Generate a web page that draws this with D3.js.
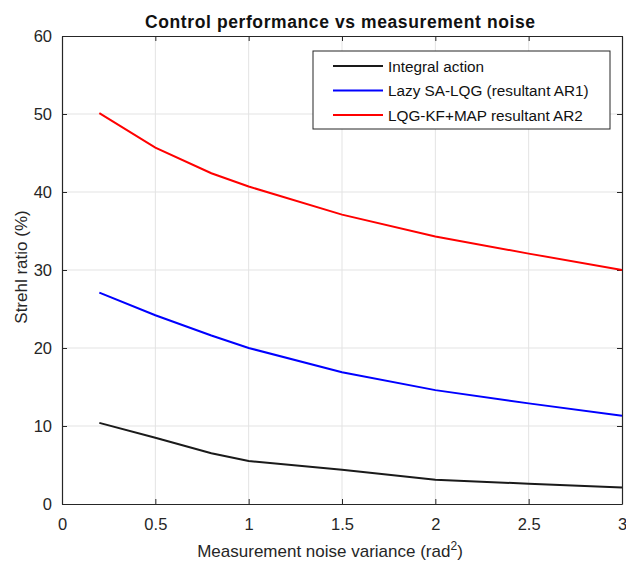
<!DOCTYPE html>
<html>
<head>
<meta charset="utf-8">
<script src="https://cdn.jsdelivr.net/npm/d3@7"></script>
<style>
  body { margin: 0; background: #fff; }
  text { font-family: "Liberation Sans", Arial, sans-serif; }
</style>
</head>
<body>
<div id="chart"></div>
<script>
const noise = [0.2, 0.5, 0.8, 1.0, 1.5, 2.0, 2.5, 3.0];
const integral = [10.4, 8.5, 6.5, 5.5, 4.4, 3.1, 2.6, 2.1];
const lazyLqg = [27.1, 24.2, 21.6, 20.0, 16.9, 14.6, 12.9, 11.3];
const lqgKfMap = [50.1, 45.7, 42.4, 40.7, 37.1, 34.3, 32.1, 30.0];
const seriesNames = ["Integral action", "Lazy SA-LQG (resultant AR1)", "LQG-KF+MAP resultant AR2"];
const seriesColors = ["#1a1a1a", "#0000ff", "#ff0000"];
const xTicks = [0, 0.5, 1, 1.5, 2, 2.5, 3];
const yTicks = [0, 10, 20, 30, 40, 50, 60];

const W = 626, H = 563;
const margin = {top: 36, right: 4, bottom: 59, left: 62};
const width = W - margin.left - margin.right,
      height = H - margin.top - margin.bottom;

const svg = d3.select("#chart").append("svg")
    .attr("width", W).attr("height", H);

const x = d3.scaleLinear().domain([0, 3]).range([0, width]);
const y = d3.scaleLinear().domain([0, 60]).range([height, 0]);

const g = svg.append("g").attr("transform", `translate(${margin.left},${margin.top})`);

// grid
g.append("g").selectAll("line").data(xTicks.slice(1, -1)).join("line")
    .attr("x1", d => x(d)).attr("x2", d => x(d))
    .attr("y1", 0).attr("y2", height)
    .attr("stroke", "#e3e3e3").attr("stroke-width", 1);
g.append("g").selectAll("line").data(yTicks.slice(1, -1)).join("line")
    .attr("y1", d => y(d)).attr("y2", d => y(d))
    .attr("x1", 0).attr("x2", width)
    .attr("stroke", "#e3e3e3").attr("stroke-width", 1);

// axes (ticks inward, matlab style)
const xAxis = g.append("g").attr("transform", `translate(0,${height})`)
    .call(d3.axisBottom(x).tickValues(xTicks).tickSizeInner(-5).tickSizeOuter(0).tickPadding(14).tickFormat(d3.format("")));
const xTop = g.append("g")
    .call(d3.axisTop(x).tickValues(xTicks).tickSizeInner(-5).tickSizeOuter(0).tickFormat(""));
const yAxis = g.append("g")
    .call(d3.axisLeft(y).tickValues(yTicks).tickSizeInner(-5).tickSizeOuter(0).tickPadding(10));
const yRight = g.append("g").attr("transform", `translate(${width},0)`)
    .call(d3.axisRight(y).tickValues(yTicks).tickSizeInner(-5).tickSizeOuter(0).tickFormat(""));

[xAxis, xTop, yAxis, yRight].forEach(a => {
  a.select(".domain").attr("stroke", "#262626").attr("stroke-width", 1.2);
  a.selectAll(".tick line").attr("stroke", "#262626");
  a.selectAll("text").attr("font-size", 16.5).attr("fill", "#262626")
    .style("font-family", "'Liberation Sans', Arial, sans-serif");
});

// lines
const line = d3.line().x((d, i) => x(noise[i])).y(d => y(d));
[integral, lazyLqg, lqgKfMap].forEach((s, i) => {
  g.append("path").datum(s)
    .attr("fill", "none")
    .attr("stroke", seriesColors[i])
    .attr("stroke-width", 2)
    .attr("d", line);
});

// legend
const leg = svg.append("g").attr("transform", "translate(313,51)");
leg.append("rect").attr("width", 297).attr("height", 78)
    .attr("fill", "#fff").attr("stroke", "#262626").attr("stroke-width", 1);
seriesNames.forEach((name, i) => {
  const ly = 15 + i * 24.5;
  leg.append("line").attr("x1", 20).attr("x2", 70).attr("y1", ly).attr("y2", ly)
    .attr("stroke", seriesColors[i]).attr("stroke-width", 2);
  leg.append("text").attr("x", 75).attr("y", ly + 5.5)
    .attr("font-size", 15.3).attr("fill", "#111").text(name);
});

// title and labels
svg.append("text").attr("x", 340).attr("y", 28)
    .attr("text-anchor", "middle").attr("font-size", 17.5).attr("font-weight", "bold")
    .attr("textLength", 390).attr("lengthAdjust", "spacing")
    .attr("fill", "#111").text("Control performance vs measurement noise");

const xl = svg.append("text").attr("x", 330).attr("y", 557)
    .attr("text-anchor", "middle").attr("font-size", 17).attr("fill", "#262626");
xl.append("tspan").text("Measurement noise variance (rad");
xl.append("tspan").attr("dy", -7).attr("font-size", 12).text("2");
xl.append("tspan").attr("dy", 7).text(")");

svg.append("text")
    .attr("transform", `translate(27,${margin.top + height / 2 - 3}) rotate(-90)`)
    .attr("text-anchor", "middle").attr("font-size", 17).attr("fill", "#262626")
    .text("Strehl ratio (%)");
</script>
</body>
</html>
